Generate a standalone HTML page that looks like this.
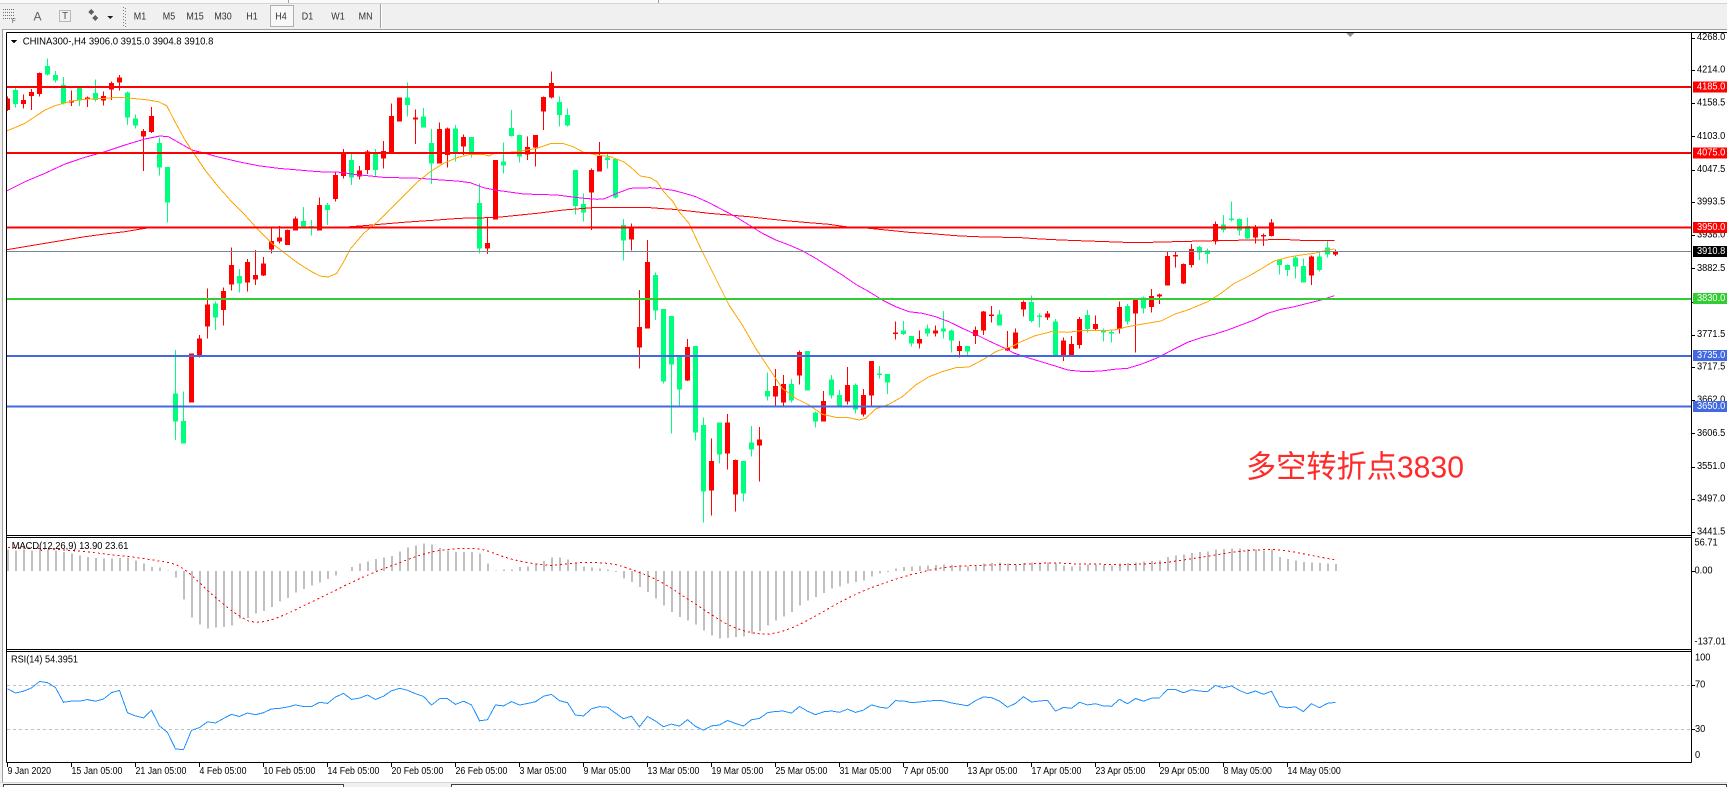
<!DOCTYPE html>
<html><head><meta charset="utf-8">
<style>
html,body{margin:0;padding:0;background:#fff;overflow:hidden;width:1727px;height:787px;}
svg{display:block;}
text{font-family:"Liberation Sans","Noto Sans CJK SC",sans-serif;}
</style></head>
<body>
<svg id="s" width="1727" height="787" viewBox="0 0 1727 787" xmlns="http://www.w3.org/2000/svg" shape-rendering="crispEdges">
<defs>
<clipPath id="cpMain"><rect x="7" y="33" width="1684" height="502"/></clipPath>
<clipPath id="cpMacd"><rect x="7" y="538" width="1684" height="111"/></clipPath>
<clipPath id="cpRsi"><rect x="7" y="652" width="1684" height="110"/></clipPath>
</defs>
<rect x="0" y="0" width="1727" height="787" fill="#fff"/>
<!-- toolbar -->
<rect x="0" y="0" width="1727" height="29" fill="#f0f0f0"/>
<rect x="0" y="0" width="1727" height="3" fill="#fafafa"/>
<line x1="0" y1="3.5" x2="1727" y2="3.5" stroke="#d4d4d4"/>
<line x1="288.5" y1="0" x2="288.5" y2="3" stroke="#a0a0a0"/>
<line x1="658.5" y1="0" x2="658.5" y2="3" stroke="#a0a0a0"/>
<line x1="0" y1="29.5" x2="1727" y2="29.5" stroke="#a0a0a0"/>
<!-- left window edge -->
<rect x="0" y="29" width="2" height="758" fill="#f0f0f0"/>
<line x1="2.5" y1="29" x2="2.5" y2="783" stroke="#a0a0a0"/>
<!-- bottom strip -->
<rect x="0" y="782" width="1727" height="5" fill="#f0f0f0"/>
<line x1="0" y1="782.5" x2="1727" y2="782.5" stroke="#d8d8d8"/>
<rect x="3.5" y="784.5" width="340" height="6" fill="#fff" stroke="#404040"/>
<rect x="451.5" y="784.5" width="1275" height="6" fill="#fff" stroke="#404040"/>
<g id="tb"></g>
<g id="main"></g>
</svg>
<script>
const NS="http://www.w3.org/2000/svg";
const svg=document.getElementById('s');
function el(tag,attrs,parent){const e=document.createElementNS(NS,tag);for(const k in attrs)e.setAttribute(k,attrs[k]);(parent||svg).appendChild(e);return e;}
function T(x,y,s,o){o=o||{};const t=el('text',{x:x,y:y,'font-size':o.fs||10,fill:o.fill||'#000','dominant-baseline':'central','text-anchor':o.anchor||'start'},o.parent);t.textContent=s;
 if(o.w){t.setAttribute('textLength',o.w);t.setAttribute('lengthAdjust','spacingAndGlyphs');}
 else if(o.sx){const L=t.getComputedTextLength();if(L>0){t.setAttribute('textLength',(L*o.sx).toFixed(2));t.setAttribute('lengthAdjust','spacingAndGlyphs');}}
 return t;}

/* ---------- toolbar ---------- */
const tb=document.getElementById('tb');
// grid-F icon
for(let i=0;i<4;i++){el('line',{x1:3,y1:9.5+i*3,x2:14,y2:9.5+i*3,stroke:'#707070','stroke-dasharray':'1,1'},tb);}
T(12,22,'F',{fs:6,fill:'#404040',parent:tb});
T(37.5,16.5,'A',{fs:12,fill:'#606060',anchor:'middle',parent:tb});
el('rect',{x:59.5,y:10.5,width:11,height:11,fill:'none',stroke:'#808080','stroke-dasharray':'1,1'},tb);
T(65,16.5,'T',{fs:10,fill:'#505050',anchor:'middle',parent:tb});
el('polygon',{points:'88,12 91,9 94,12 91,15',fill:'#606060'},tb);
el('polygon',{points:'92,18 95,15 98,18 95,21',fill:'#606060'},tb);
el('polygon',{points:'107,16 113,16 110,19',fill:'#202020'},tb);
for(let i=0;i<7;i++){el('rect',{x:123,y:7+i*3,width:1,height:1,fill:'#808080'},tb);el('rect',{x:125,y:8+i*3,width:1,height:1,fill:'#808080'},tb);}
el('rect',{x:270.5,y:5.5,width:23,height:21,fill:'#f8f8f8',stroke:'#b0b0b0'},tb);
[['M1',140],['M5',169],['M15',195],['M30',223],['H1',252],['H4',281],['D1',307.5],['W1',338],['MN',365.6]].forEach(a=>T(a[1],16.5,a[0],{fs:10.5,fill:'#303030',anchor:'middle',sx:0.85,parent:tb}));
el('line',{x1:380.5,y1:4,x2:380.5,y2:28,stroke:'#a0a0a0'},tb);
el('line',{x1:381.5,y1:4,x2:381.5,y2:28,stroke:'#ffffff'},tb);

/* ---------- data ---------- */
const C=[
[1,155,198,160,195],[0,128,188,135,177],[1,148,190,165,177],[1,132,195,141,153],[1,82,155,84,147],
[0,40,92,63,88],[0,78,112,90,107],[0,96,178,120,175],[1,137,183,167,172],[0,128,183,128,167],
[1,155,186,158,164],[0,104,170,144,165],[1,140,182,153,167],[1,110,165,114,134],[1,90,137,98,113],
[0,140,240,143,218],[0,208,250,220,242],[1,252,378,258,275],[1,186,264,213,261],[0,278,392,294,368],
[0,366,532,366,473],[0,915,1185,1045,1130],[0,1040,1195,1128,1195],[1,925,1073,925,1073],[1,870,938,880,935],
[1,730,880,778,845],[0,770,855,776,818],[1,727,842,738,795],[1,608,737,660,718],[0,672,742,693,716],
[1,642,740,651,713],[1,615,720,690,704],[1,636,693,655,692],[1,550,626,588,614],[1,543,596,578,590],
[1,553,600,555,600],[1,514,557,520,557],[0,486,548,528,545],[0,525,572,543,546],[1,457,557,480,557],
[0,474,540,480,495],[1,383,470,390,462],[1,312,400,323,393],[0,326,420,345,398],[1,363,403,376,395],
[1,315,387,320,375],[0,312,393,326,375],[1,288,370,318,341],[1,176,325,213,325],[1,158,230,158,230],
[0,113,215,158,180],[1,193,297,218,223],[0,189,248,215,248],[0,252,417,294,356],[1,232,356,252,356],
[1,248,368,250,330],[0,240,350,250,325],[1,268,330,276,305],[0,276,338,276,325],[0,415,625,474,610],
[1,518,627,594,610],[1,345,523,345,523],[0,292,385,350,362],[0,195,275,249,273],[0,268,352,270,335],
[1,275,345,306,329],[1,270,365,270,308],[1,155,255,156,200],[1,80,160,114,158],[0,155,245,171,210],
[0,190,245,210,242],[0,375,508,375,483],[0,445,530,477,502],[1,370,555,375,443],[1,291,380,333,380],
[0,325,370,338,345],[0,342,460,342,458],[0,522,647,540,587],[1,535,617,546,584],[1,735,970,846,908],
[1,585,850,651,850],[0,683,825,690,797],[0,792,1015,792,1010],[0,813,1165,813,958],[0,935,1083,935,1033],
[1,882,1008,906,1007],[0,903,1187,903,1162],[0,1117,1432,1140,1340],[1,1180,1412,1248,1337],[0,1133,1256,1133,1229],
[1,1107,1273,1133,1225],[1,1243,1400,1245,1349],[0,1248,1370,1248,1345],[0,1143,1235,1193,1213],[1,1146,1310,1183,1201],
[0,982,1067,1038,1055],[1,972,1083,1023,1055],[1,990,1082,1017,1073],[0,1002,1073,1017,1067],[1,917,1018,921,992],
[0,918,1037,918,1037],[0,1100,1148,1102,1130],[1,1038,1130,1068,1130],[0,990,1060,1003,1052],[0,1035,1082,1050,1082],
[1,966,1078,1020,1070],[0,1015,1105,1020,1093],[1,1032,1115,1050,1108],[1,948,1082,948,1052],[0,963,1000,985,990],
[0,987,1047,987,1012],[1,830,883,863,866],[0,828,870,857,867],[0,873,905,873,896],[1,857,911,882,896],
[0,838,875,850,866],[1,842,875,857,866],[0,798,880,850,860],[0,853,922,857,887],[1,888,937,903,918],
[0,903,930,903,920],[1,845,897,855,873],[1,798,870,800,857],[1,783,833,808,812],[0,795,842,808,842],
[1,858,918,908,916],[1,850,912,863,910],[1,767,815,771,793],[0,752,832,771,828],[0,805,848,812,815],
[1,798,825,806,817],[0,822,932,830,932],[1,878,948,886,932],[1,873,932,897,930],[1,816,910,822,900],
[0,795,862,810,852],[1,812,855,837,852],[0,850,890,857,862],[0,855,893,861,865],[1,770,866,786,852],
[0,777,838,783,830],[1,763,923,765,806],[0,755,805,757,791],[1,732,802,753,786],[1,745,777,748,755],
[1,621,722,633,722],[1,621,668,630,635],[1,655,717,657,715],[1,597,668,612,660],[0,603,645,606,623],
[0,610,655,617,627],[1,530,598,537,590],[0,510,562,538,555],[0,470,530,521,524],[0,520,572,522,557],
[0,518,582,543,580],[1,540,595,546,577],[1,565,603,570,575],[1,522,575,533,573],[0,643,688,643,660],
[0,658,693,660,675],[0,633,700,638,665],[0,640,713,663,713],[1,632,720,635,692],[0,620,680,635,675],
[0,588,638,607,628],[1,613,633,618,628]
];

const Z={8:5,9:337,10:669,11:1001};
function pts(segs){const out=[];segs.forEach(s=>{const ox=Z[s[0]];s[1].forEach(p=>out.push((ox+p[0]/3).toFixed(1)+','+(45+p[1]/3).toFixed(1)));});return out.join(' ');}

const ORANGE=[[8,[[0,260],[60,235],[120,195],[150,182],[200,168],[250,162],[300,160],[340,157],[380,160],[430,165],[460,170],[485,182],[510,230],[540,285],[570,330],[600,375],[640,425],[680,470],[720,510],[760,555],[800,595],[840,625],[880,655],[920,680],[945,693],[970,696],[995,685]]],
[9,[[20,650],[40,612],[80,565],[120,532],[160,492],[200,453],[240,412],[280,380],[320,355],[360,338],[400,328],[440,328],[455,333],[470,326],[540,320],[600,310],[640,296],[680,296],[710,306],[740,322],[780,330],[820,335],[860,350],[885,370],[910,393],[940,398],[960,410],[980,440],[1008,470]]],
[10,[[30,500],[60,535],[100,620],[140,700],[180,780],[220,840],[260,910],[300,970],[340,1030],[380,1060],[420,1080],[460,1108],[500,1117],[540,1118],[570,1125],[590,1120],[620,1092],[660,1078],[700,1055],[740,1020],[780,995],[820,980],[860,968],[900,966],[940,945],[980,920],[1008,910]]],
[11,[[30,906],[60,890],[100,873],[150,860],[200,862],[250,856],[300,857],[340,855],[380,845],[420,838],[480,828],[520,808],[560,795],[620,770],[660,745],[700,715],[740,695],[780,672],[820,648],[860,637],[900,630],[940,625],[980,615],[1000,612]]]];

const MAG=[[8,[[0,440],[60,410],[120,385],[180,357],[240,337],[300,320],[360,300],[420,282],[465,273],[490,275],[520,292],[560,315],[600,325],[640,336],[700,350],[760,362],[820,370],[880,375],[940,380],[1008,382]]],
[9,[[50,388],[100,393],[150,398],[180,398],[250,400],[300,404],[360,408],[400,413],[440,428],[480,436],[560,447],[660,450],[700,455],[740,460],[780,463],[800,462],[840,445],[880,430],[940,428],[980,432],[1008,436]]],
[10,[[40,443],[80,455],[120,473],[160,494],[200,515],[240,540],[280,565],[320,585],[360,600],[400,617],[440,640],[480,665],[520,690],[560,718],[600,740],[640,765],[680,785],[720,800],[760,805],[800,815],[840,830],[880,850],[920,868],[960,888],[1008,910]]],
[11,[[40,925],[80,938],[120,950],[160,962],[200,975],[250,980],[300,978],[340,973],[380,970],[420,958],[470,938],[520,912],[560,892],[600,878],[640,868],[680,855],[720,840],[760,825],[800,805],[840,793],[880,785],[920,775],[960,765],[1000,752]]]];

const RMA=[[8,[[0,615],[60,605],[120,595],[180,585],[240,575],[300,567],[360,560],[420,550],[460,548]]],
[9,[[0,548],[80,542],[200,532],[300,525],[370,520],[450,518],[500,515],[600,505],[680,495],[780,487],[850,487],[940,488],[980,491],[1008,493]]],
[10,[[60,498],[120,505],[180,510],[240,515],[300,522],[360,528],[420,533],[480,538],[530,545],[600,550],[660,556],[720,562],[800,567],[860,572],[920,575],[1008,577]]],
[11,[[60,578],[120,582],[180,585],[260,588],[370,592],[450,592],[520,590],[640,587],[700,586],[780,585],[840,583],[900,586],[1000,586]]]];

/* ---------- main chart ---------- */
const gM=el('g',{'clip-path':'url(#cpMain)'});
C.forEach((d,k)=>{const col=d[0]?'#ff0000':'#00ff7f';const cx=7+8*k;
 const wt=45+d[1]/3,wb=45+d[2]/3,bt=45+d[3]/3,bb=45+d[4]/3;
 el('rect',{x:cx,y:wt.toFixed(1),width:1,height:Math.max(1,wb-wt).toFixed(1),fill:col},gM);
 el('rect',{x:cx-2,y:bt.toFixed(1),width:5,height:Math.max(1.5,bb-bt).toFixed(1),fill:col},gM);
});
el('polyline',{points:pts(RMA),fill:'none',stroke:'#ff0000','stroke-width':1},gM);
el('polyline',{points:pts(MAG),fill:'none',stroke:'#ff00ff','stroke-width':1},gM);
el('polyline',{points:pts(ORANGE),fill:'none',stroke:'#ffa500','stroke-width':1},gM);

// horizontal levels
[[87,'#ff0000',2],[153,'#ff0000',2],[227.7,'#ff0000',2],[299,'#32cd32',2],[356,'#4169e1',2],[406.7,'#4169e1',2]].forEach(h=>{
 el('line',{x1:7,y1:h[0],x2:1691,y2:h[0],stroke:h[1],'stroke-width':h[2]});});
el('line',{x1:7,y1:251.5,x2:1691,y2:251.5,stroke:'#778899','stroke-width':1});

// big annotation
T(1246,467,'多空转折点3830',{fs:31,fill:'#ff2a2a',w:218});

// title
el('polygon',{points:'11,40 17,40 14,43.5',fill:'#000'});
T(22.7,42,'CHINA300-,H4  3906.0 3915.0 3904.8 3910.8',{fs:10,w:190.7});
// chart shift marker
el('polygon',{points:'1345,32 1355,32 1350,37',fill:'#909090'});

/* ---------- MACD ---------- */
const H=[38,40,38,40,38,38,40,45,50,55,
60,63,65,65,63,62,70,80,90,92,
100,122,188,242,263,275,272,270,265,245,
243,230,222,210,194,183,167,156,145,137,
126,116,102,90,80,73,66,62,57,44,
32,25,20,22,33,40,45,45,45,50,
80,100,98,98,90,88,80,72,62,62,
68,78,88,92,94,97,105,125,135,150,
165,185,205,225,240,250,262,280,295,305,
303,300,298,290,282,265,250,238,225,205,
190,180,168,155,148,140,135,130,118,110,
105,95,90,88,87,85,84,82,84,88,
88,85,80,78,76,80,82,78,76,76,
76,80,85,88,85,82,82,84,85,80,
78,76,74,72,70,60,55,52,48,45,
43,38,36,34,34,36,38,40,38,60,
66,70,75,76,78,80,81];
const gD=el('g',{'clip-path':'url(#cpMacd)'});
H.forEach((p,k)=>{const y=537+p/3;const y0=571;const top=Math.min(y,y0),hh=Math.abs(y-y0);
 if(hh>=0.5)el('rect',{x:7+8*k,y:top.toFixed(1),width:2,height:hh.toFixed(1),fill:'#c0c0c0'},gD);});
const pad=[30,30,30,30,30,30,30,30];const all=pad.concat(H);const sig=[];
for(let k=0;k<H.length;k++){let s=0;for(let j=0;j<9;j++)s+=all[k+8-j];sig.push(s/9);}
el('polyline',{points:sig.map((p,k)=>(8+8*k)+','+(537+p/3).toFixed(1)).join(' '),fill:'none',stroke:'#ff0000','stroke-width':1,'stroke-dasharray':'2,3'},gD);
T(11.7,546.3,'MACD(12,26,9) 13.90 23.61',{fs:10,w:116.7});

/* ---------- RSI ---------- */
const gR=el('g',{'clip-path':'url(#cpRsi)'});
el('line',{x1:7,y1:685.5,x2:1691,y2:685.5,stroke:'#c0c0c0','stroke-dasharray':'3,3'},gR);
el('line',{x1:7,y1:729.5,x2:1691,y2:729.5,stroke:'#c0c0c0','stroke-dasharray':'3,3'},gR);
const cl=C.map(d=>d[0]?d[3]:d[4]);
let ag=14,al=7;const rsi=[];
for(let k=0;k<cl.length;k++){const ch=k?-(cl[k]-cl[k-1]):0;const g=Math.max(ch,0),l=Math.max(-ch,0);
 if(k){ag=(ag*13+g)/14;al=(al*13+l)/14;} rsi.push(al===0?100:100-100/(1+ag/al));}
el('polyline',{points:rsi.map((r,k)=>(7.5+8*k)+','+(762.5-r*1.1075).toFixed(1)).join(' '),fill:'none',stroke:'#1e90ff','stroke-width':1},gR);
T(11,660,'RSI(14) 54.3951',{fs:10,w:67});

/* ---------- frames ---------- */
const fr='#000';
el('line',{x1:6.5,y1:32.5,x2:1727,y2:32.5,stroke:fr});
el('line',{x1:6.5,y1:32.5,x2:6.5,y2:762.5,stroke:fr});
el('line',{x1:1691.5,y1:32.5,x2:1691.5,y2:762.5,stroke:fr});
[535.5,537.5,649.5,651.5,762.5].forEach(y=>el('line',{x1:6.5,y1:y,x2:1691.5,y2:y,stroke:fr}));

/* ---------- right axis ---------- */
const vals=[4268.0,4214.0,4158.5,4103.0,4047.5,3993.5,3938.0,3882.5,3827.0,3771.5,3717.5,3662.0,3606.5,3551.0,3497.0,3441.5];
vals.forEach(v=>{const y=37.7+(4268-v)*0.5982;
 el('line',{x1:1692,y1:Math.round(y)+0.5,x2:1695,y2:Math.round(y)+0.5,stroke:'#000'});
 T(1697,y,v.toFixed(1),{fs:10,sx:0.925});});
[[87,'4185.0','#ff0000'],[153,'4075.0','#ff0000'],[227.7,'3950.0','#ff0000'],[251.5,'3910.8','#000000'],[298.7,'3830.0','#32cd32'],[355.5,'3735.0','#4169e1'],[406.3,'3650.0','#4169e1']].forEach(b=>{
 el('rect',{x:1693,y:(b[0]-5.5).toFixed(1),width:34,height:11,fill:b[2]});
 T(1697,b[0],b[1],{fs:10,fill:'#fff',sx:0.925});});
[[543,'56.71'],[571,'0.00'],[642,'-137.01']].forEach(a=>{T(1694.5,a[0],a[1],{fs:10,sx:0.925});});
el('line',{x1:1692,y1:571.5,x2:1695,y2:571.5,stroke:'#000'});
[[658,'100'],[685,'70'],[729.3,'30'],[755.7,'0']].forEach(a=>{T(1695,a[0],a[1],{fs:10,sx:0.925});});
el('line',{x1:1692,y1:685.5,x2:1695,y2:685.5,stroke:'#000'});
el('line',{x1:1692,y1:729.5,x2:1695,y2:729.5,stroke:'#000'});

/* ---------- x axis ---------- */
const xl=['9 Jan 2020','15 Jan 05:00','21 Jan 05:00','4 Feb 05:00','10 Feb 05:00','14 Feb 05:00','20 Feb 05:00','26 Feb 05:00','3 Mar 05:00','9 Mar 05:00','13 Mar 05:00','19 Mar 05:00','25 Mar 05:00','31 Mar 05:00','7 Apr 05:00','13 Apr 05:00','17 Apr 05:00','23 Apr 05:00','29 Apr 05:00','8 May 05:00','14 May 05:00'];
xl.forEach((s,j)=>{const x=7+64*j;
 el('line',{x1:x+0.5,y1:762.5,x2:x+0.5,y2:767,stroke:'#000'});
 T(x+0.5,771.7,s,{fs:10,sx:0.88});});
</script>
</body></html>
